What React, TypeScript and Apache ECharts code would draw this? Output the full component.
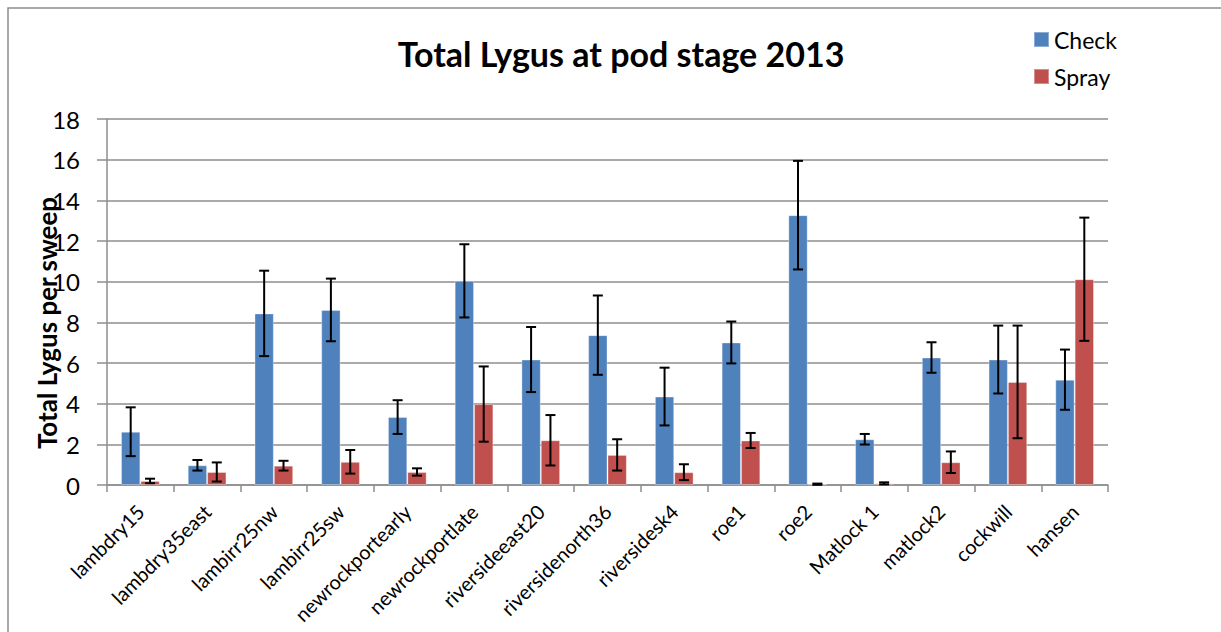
import React, { useEffect, useRef } from "react";
import * as echarts from "echarts";

const categories = [
  "lambdry15", "lambdry35east", "lambirr25nw", "lambirr25sw", "newrockportearly",
  "newrockportlate", "riversideeast20", "riversidenorth36", "riversidesk4", "roe1",
  "roe2", "Matlock 1", "matlock2", "cockwill", "hansen",
];
const checkMeans = [2.62, 0.97, 8.44, 8.61, 3.34, 10.04, 6.17, 7.37, 4.35, 7.01, 13.27, 2.25, 6.27, 6.17, 5.18];
const checkErrors = [1.2, 0.26, 2.1, 1.54, 0.83, 1.8, 1.6, 1.95, 1.42, 1.03, 2.67, 0.26, 0.75, 1.67, 1.48];
const sprayMeans = [0.2, 0.64, 0.95, 1.14, 0.64, 3.98, 2.2, 1.48, 0.63, 2.19, 0.04, 0.08, 1.12, 5.07, 10.12];
const sprayErrors = [0.11, 0.47, 0.24, 0.58, 0.18, 1.85, 1.24, 0.77, 0.39, 0.37, 0.03, 0.05, 0.53, 2.77, 3.03];
const yTicks = { min: 0, max: 18, interval: 2 };

const FONT = "Lato";
const CAT_GAP = 0.42;
const GRID_COLOR = "#8e8e8e";

function makeErrorSeries(name: string, means: number[], errs: number[], side: number) {
  return {
    type: "custom",
    name: name + " error",
    z: 5,
    silent: true,
    encode: { x: 0, y: 1 },
    data: means.map((m, i) => [i, m, errs[i]]),
    renderItem: (params: any, api: any) => {
      const idx = api.value(0);
      const mean = api.value(1);
      const err = api.value(2);
      const catW = api.size([1, 0])[0];
      const barW = (catW * (1 - CAT_GAP)) / 2;
      const top = api.coord([idx, mean + err]);
      const bot = api.coord([idx, Math.max(mean - err, 0)]);
      const x = top[0] + side * (barW / 2);
      const cap = 5;
      const style = { stroke: "#000", lineWidth: 2 };
      return {
        type: "group",
        children: [
          { type: "line", shape: { x1: x, y1: top[1], x2: x, y2: bot[1] }, style },
          { type: "line", shape: { x1: x - cap, y1: top[1], x2: x + cap, y2: top[1] }, style },
          { type: "line", shape: { x1: x - cap, y1: bot[1], x2: x + cap, y2: bot[1] }, style },
        ],
      };
    },
  };
}

export default function App() {
  const ref = useRef<HTMLDivElement>(null);
  useEffect(() => {
    if (!ref.current) return;
    const chart = echarts.init(ref.current, undefined, { renderer: "svg" });
    chart.setOption({
      animation: false,
      backgroundColor: "#fff",
      textStyle: { fontFamily: FONT },
      title: {
        text: "Total Lygus at pod stage 2013",
        left: 616,
        textAlign: "center",
        top: 31,
        textStyle: { fontFamily: FONT, fontSize: 34, fontWeight: "bold", color: "#000" },
      },
      legend: {
        orient: "vertical",
        left: 1028,
        top: 23,
        itemWidth: 15,
        itemHeight: 15,
        itemGap: 14,
        icon: "rect",
        data: ["Check", "Spray"],
        textStyle: { fontFamily: FONT, fontSize: 23, color: "#000" },
      },
      grid: { left: 107, top: 119, width: 1001, height: 366 },
      xAxis: {
        type: "category",
        data: categories,
        axisLine: { lineStyle: { color: GRID_COLOR, width: 1.5 } },
        axisTick: { show: true, length: 7, lineStyle: { color: GRID_COLOR, width: 1.5 } },
        axisLabel: { rotate: 45, fontSize: 20, color: "#000", margin: 23, fontFamily: FONT, interval: 0 },
      },
      yAxis: {
        type: "value",
        min: yTicks.min,
        max: yTicks.max,
        interval: yTicks.interval,
        axisLine: { show: true, lineStyle: { color: GRID_COLOR, width: 1.5 } },
        axisTick: { show: true, length: 10, lineStyle: { color: GRID_COLOR, width: 1.5 } },
        splitLine: { lineStyle: { color: GRID_COLOR, width: 1.5 } },
        axisLabel: { fontSize: 24, color: "#000", margin: 27, fontFamily: FONT },
      },
      graphic: [
        {
          type: "rect",
          shape: { x: 8, y: 8, width: 1400, height: 800 },
          style: { fill: "none", stroke: "#8c8c8c", lineWidth: 1.5 },
          silent: true,
        },
        {
          type: "text",
          x: 47,
          y: 323,
          rotation: Math.PI / 2,
          style: {
            text: "Total Lygus per sweep",
            fontFamily: FONT,
            fontSize: 26,
            fontWeight: "bold",
            fill: "#000",
            textAlign: "center",
            textVerticalAlign: "middle",
          },
          z: 10,
        },
      ],
      series: [
        {
          type: "bar",
          name: "Check",
          data: checkMeans,
          barGap: "0%",
          barCategoryGap: CAT_GAP * 100 + "%",
          itemStyle: { color: "#4F81BD", borderColor: "rgba(255,255,255,0.35)", borderWidth: 1 },
        },
        {
          type: "bar",
          name: "Spray",
          data: sprayMeans,
          barGap: "0%",
          barCategoryGap: CAT_GAP * 100 + "%",
          itemStyle: { color: "#C0504D", borderColor: "rgba(255,255,255,0.35)", borderWidth: 1 },
        },
        makeErrorSeries("Check", checkMeans, checkErrors, -1),
        makeErrorSeries("Spray", sprayMeans, sprayErrors, 1),
      ],
    });
    return () => chart.dispose();
  }, []);
  return (
    <div
      ref={ref}
      style={{ position: "fixed", left: 0, top: 0, width: 1221, height: 632 }}
    />
  );
}
